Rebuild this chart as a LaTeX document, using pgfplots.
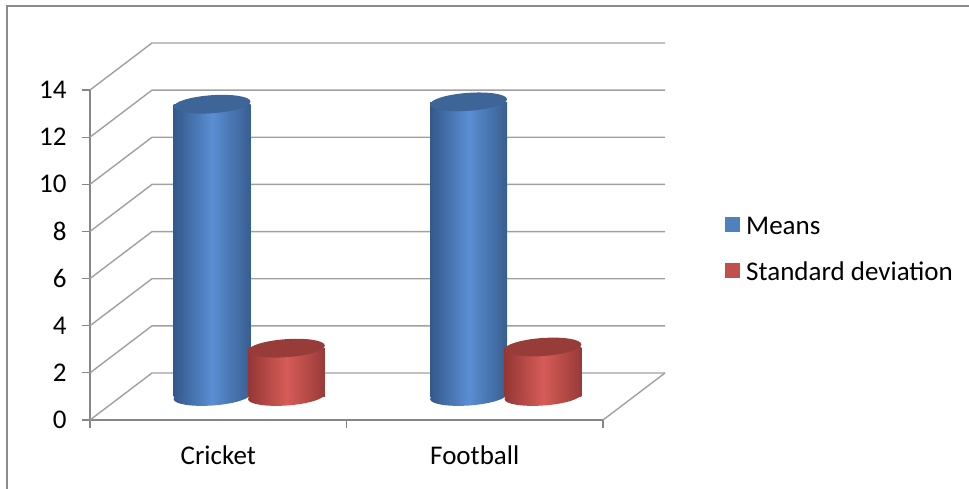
\documentclass[border=0pt]{standalone}
\usepackage{pgfplots}
\pgfplotsset{compat=1.18}
\usepackage{pgfplotstable}
\usepackage{fontspec}
\setmainfont{Carlito}
\usetikzlibrary{shapes.geometric}
\definecolor{gridc}{RGB}{160,160,160}
\definecolor{axc}{RGB}{134,134,134}
\definecolor{frc}{RGB}{140,140,140}
\definecolor{mblue}{RGB}{79,129,189}
\definecolor{bL}{RGB}{52,88,138}
\definecolor{bM}{RGB}{90,142,212}
\definecolor{bR}{RGB}{56,94,144}
\definecolor{btop}{RGB}{62,101,152}
\definecolor{mred}{RGB}{192,80,77}
\definecolor{rL}{RGB}{148,54,52}
\definecolor{rM}{RGB}{214,92,88}
\definecolor{rR}{RGB}{152,58,55}
\definecolor{rtop}{RGB}{152,60,57}

\pgfplotstableread{
xm    xs    mean  sd    base
0.355 0.645 12.4  2.05  0
1.355 1.645 12.5  2.1   0
}\datatab

\pgfplotsset{
  cylbase/.style n args={3}{forget plot, draw=none, mark=none, nodes near coords={\mbox{}},
    every node near coord/.style={xshift=31pt, yshift=23.5pt, rotate=4, ellipse, inner sep=0pt,
      minimum width=77pt, minimum height=18pt, left color=#1, right color=#3, middle color=#2,
      anchor=center}},
  cylbody/.style n args={4}{draw=none, mark=none,
    visualization depends on={\thisrow{#4} \as \h},
    nodes near coords={\mbox{}},
    every node near coord/.style={xshift=31pt, yshift=23.5pt, rectangle, inner sep=0pt,
      minimum width=77pt, minimum height={\h*23.5714pt}, left color=#1, right color=#3,
      middle color=#2, anchor=north}},
  cyltop/.style={forget plot, draw=none, mark=none, nodes near coords={\mbox{}},
    every node near coord/.style={xshift=31pt, yshift=23.5pt, rotate=4, ellipse, inner sep=0pt,
      minimum width=77pt, minimum height=18pt, fill=#1, anchor=center}},
}

\begin{document}
\begin{tikzpicture}
\path[use as bounding box] (0,0) rectangle (969pt,489pt);
\draw[frc, line width=1.5pt] (7pt,0) -- (7pt,483pt) -- (969pt,483pt);
\begin{axis}[
  at={(90pt,69pt)}, anchor=south west,
  scale only axis, width=513pt, height=330pt,
  xmin=0, xmax=2, ymin=0, ymax=14,
  clip=false,
  axis x line*=bottom, axis y line*=left,
  axis line style={axc, line width=1.2pt, -},
  ytick={0,2,...,14},
  xtick={0.5,1.5}, xticklabels={Cricket,Football},
  minor xtick={0,1,2},
  tick align=outside,
  major tick length=8pt, minor tick length=8pt,
  major x tick style={draw=none},
  minor x tick style={axc, line width=1.2pt},
  ytick style={axc, line width=1.2pt},
  tick label style={font=\fontsize{27}{32}\selectfont},
  yticklabel style={xshift=-12pt},
  xticklabel style={yshift=-14pt},
  /pgf/number format/assume math mode=true,
  legend style={at={(1.232,0.628)}, anchor=north west, draw=none, fill=none,
    font=\fontsize{27}{32}\selectfont, row sep=22pt},
  legend cell align=left,
]
\pgfplotsinvokeforeach{0,2,...,14}{
  \draw[gridc, line width=1.4pt] (axis cs:0,#1) -- ++(62pt,47pt) -- ([shift={(62pt,47pt)}]axis cs:2,#1);
}
\draw[gridc, line width=1.4pt] (axis cs:2,0) -- ++(62pt,47pt);

% Means cylinders
\addplot[cylbase={bL}{bM}{bR}] table[x=xm, y=base] {\datatab};
\addplot[cylbody={bL}{bM}{bR}{mean},
  legend image code/.code={\path (0pt,0pt) -- (19pt,0pt); \fill[mblue] (0pt,-6pt) rectangle (15pt,9pt);}]
  table[x=xm, y=mean] {\datatab};
\addlegendentry{Means}
\addplot[cyltop=btop] table[x=xm, y=mean] {\datatab};

% Standard deviation cylinders
\addplot[cylbase={rL}{rM}{rR}] table[x=xs, y=base] {\datatab};
\addplot[cylbody={rL}{rM}{rR}{sd},
  legend image code/.code={\path (0pt,0pt) -- (19pt,0pt); \fill[mred] (0pt,-6pt) rectangle (15pt,9pt);}]
  table[x=xs, y=sd] {\datatab};
\addlegendentry{Standard deviation}
\addplot[cyltop=rtop] table[x=xs, y=sd] {\datatab};
\end{axis}
\end{tikzpicture}
\end{document}
